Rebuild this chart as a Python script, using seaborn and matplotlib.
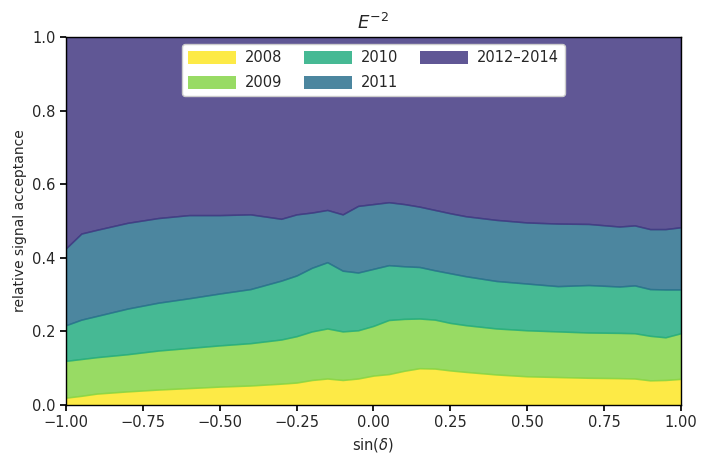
import numpy as np
import matplotlib
matplotlib.use("Agg")
import matplotlib.pyplot as plt
import seaborn as sns

sns.set_theme(style="ticks")
plt.rcParams['font.family'] = ['DejaVu Sans']
plt.rcParams['mathtext.fontset'] = 'dejavusans'

# sin(declination) grid
sin_dec = [-1.0, -0.95, -0.9, -0.8, -0.7, -0.6, -0.5, -0.4, -0.3, -0.25, -0.2,
           -0.15, -0.1, -0.05, 0.0, 0.05, 0.1, 0.15, 0.2, 0.25, 0.3, 0.4, 0.5,
           0.6, 0.7, 0.8, 0.85, 0.9, 0.95, 1.0]

# cumulative relative signal acceptance (upper edge of each season's band)
upto_2008 = [0.020, 0.025, 0.031, 0.037, 0.042, 0.046, 0.050, 0.053, 0.058, 0.061, 0.068,
             0.072, 0.068, 0.072, 0.080, 0.084, 0.093, 0.100, 0.099, 0.094, 0.090, 0.083, 0.078,
             0.076, 0.074, 0.073, 0.072, 0.067, 0.068, 0.071]
upto_2009 = [0.120, 0.125, 0.130, 0.138, 0.148, 0.155, 0.162, 0.168, 0.178, 0.187, 0.200,
             0.208, 0.200, 0.203, 0.215, 0.231, 0.234, 0.235, 0.232, 0.223, 0.217, 0.208, 0.203,
             0.200, 0.197, 0.196, 0.195, 0.188, 0.184, 0.195]
upto_2010 = [0.217, 0.232, 0.242, 0.262, 0.278, 0.290, 0.303, 0.315, 0.338, 0.352, 0.373,
             0.388, 0.365, 0.360, 0.370, 0.380, 0.377, 0.375, 0.366, 0.358, 0.350, 0.337, 0.330,
             0.323, 0.326, 0.322, 0.325, 0.315, 0.314, 0.314]
upto_2011 = [0.426, 0.466, 0.476, 0.495, 0.508, 0.516, 0.516, 0.518, 0.506, 0.518, 0.523,
             0.530, 0.518, 0.541, 0.546, 0.551, 0.546, 0.539, 0.530, 0.521, 0.513, 0.503, 0.496,
             0.493, 0.492, 0.485, 0.488, 0.478, 0.478, 0.483]
upto_2014 = [1.0] * len(sin_dec)

labels = ["2008", "2009", "2010", "2011", "2012\u20132014"]
cmap = plt.get_cmap("viridis")
colors = [cmap(v) for v in [1.0, 0.82, 0.62, 0.37, 0.17]]

x = np.array(sin_dec)
bounds = [np.zeros(len(x)), upto_2008, upto_2009, upto_2010, upto_2011, upto_2014]

fig, ax = plt.subplots(figsize=(7.07, 4.68), dpi=100)
fig.subplots_adjust(left=0.0934, right=0.963, bottom=0.1346, top=0.921)

for i, lab in enumerate(labels):
    ax.fill_between(x, bounds[i], bounds[i + 1], facecolor=colors[i], alpha=0.85,
                    edgecolor=colors[i], linewidth=1.1, label=lab)

ax.set_xlim(-1, 1)
ax.set_ylim(0, 1)
ax.set_xticks(np.linspace(-1, 1, 9))
ax.set_yticks(np.linspace(0, 1, 6))
ax.tick_params(labelsize=10.5, direction="out", length=4, color="black")
for s in ax.spines.values():
    s.set_color("black")
    s.set_linewidth(1.0)
ax.set_xlabel(r"sin$(\delta)$", fontsize=10.5)
ax.set_ylabel("relative signal acceptance", fontsize=10)
ax.set_title(r"$E^{-2}$", fontsize=13)

leg = ax.legend(loc="upper center", ncol=3, fontsize=10.5, handlelength=3.3, handleheight=1.0,
                labelspacing=0.7, frameon=True, framealpha=1.0, edgecolor="0.8", fancybox=True,
                columnspacing=1.5, handletextpad=0.6, borderaxespad=0.5)
for h in leg.legend_handles:
    h.set_edgecolor("none")

fig.savefig("out.png", dpi=100)
